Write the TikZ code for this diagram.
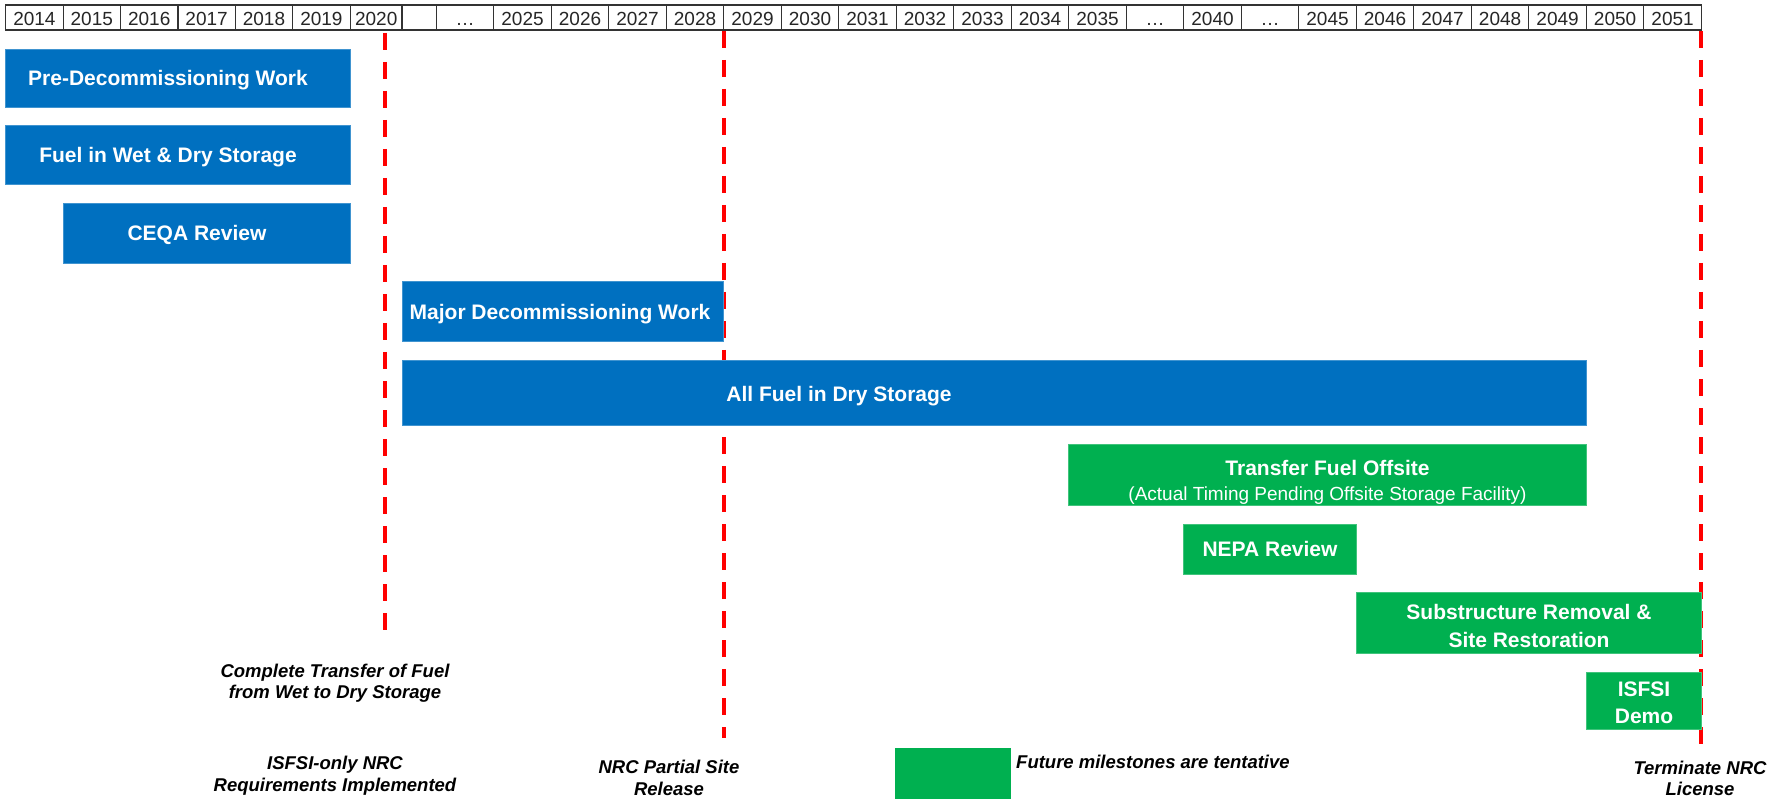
\documentclass[tikz,border=0pt]{standalone}
\usepackage{fontspec}
\setmainfont{Liberation Sans}
\definecolor{barblue}{HTML}{0070C0}
\definecolor{bargreen}{HTML}{00B050}
\definecolor{msred}{HTML}{FF0000}

\begin{document}
\begin{tikzpicture}[x=1pt,y=-1pt,
  bluebar/.style={fill=barblue,draw=barblue!75!white,line width=0.8pt},
  greenbar/.style={fill=bargreen,draw=bargreen!75!white,line width=0.8pt},
  barlabel/.style={anchor=base,inner sep=0pt,text=white,align=center,
    font=\fontsize{21}{28}\selectfont\bfseries},
  yearcell/.style={draw=black!80,line width=1.2pt},
  yearlabel/.style={anchor=base,inner sep=0pt,text=black!85,
    font=\fontsize{19}{22}\selectfont},
  milestone/.style={draw=msred,line width=4pt,dash pattern=on 17pt off 12pt},
  mslabel/.style={anchor=base,inner sep=0pt,align=center,
    font=\fontsize{18.5}{22}\selectfont\bfseries\itshape}]
  \fill[white] (0,0) rectangle (1785,799);
  \useasboundingbox (0,0) rectangle (1785,799);

  % Year header
  \foreach \yr [count=\i from 0] in {2014,2015,2016,2017,2018,2019} {
    \draw[yearcell] (5.7+57.4*\i,5) rectangle ++(57.4,25);
    \node[yearlabel] (yr\yr) at (34.4+57.4*\i,25.5) {\yr};
  }
  \draw[yearcell] (350.4,5) rectangle (402,30);
  \node[yearlabel] (yr2020) at (376.2,25.5) {2020};
  \draw[yearcell] (402,5) rectangle (436.3,30);
  \foreach \yr [count=\i from 0] in {…,2025,2026,2027,2028,2029,2030,2031,
      2032,2033,2034,2035,…,2040,…,2045,2046,2047,2048,2049,2050,2051} {
    \draw[yearcell] (436.3+57.5*\i,5) rectangle ++(57.5,25);
    \node[yearlabel] (late\i) at (465.05+57.5*\i,25.5) {\yr};
  }

  % Milestone lines (behind the bars)
  \coordinate (ms1top) at (385,33);
  \coordinate (ms1bot) at (385,637);
  \coordinate (ms2top) at (723.8,31);
  \coordinate (ms2bot) at (723.8,738);
  \coordinate (ms3top) at (1701.3,31);
  \coordinate (ms3bot) at (1701.3,747);
  \draw[milestone] (ms1top) -- (ms1bot);
  \draw[milestone] (ms2top) -- (ms2bot);
  \draw[milestone] (ms3top) -- (ms3bot);

  % Current work (blue bars)
  \draw[bluebar] (5.7,49.3) rectangle (350.4,107.3);
  \node[barlabel] (predecom) at (168,86) {Pre-Decommissioning Work};

  \draw[bluebar] (5.7,125.7) rectangle (350.4,184);
  \node[barlabel] (wetdry) at (168,162.4) {Fuel in Wet \& Dry Storage};

  \draw[bluebar] (63.1,203) rectangle (350.4,263);
  \node[barlabel] (ceqa) at (197,240.4) {CEQA Review};

  \draw[bluebar] (402,281.7) rectangle (723.3,341.7);
  \node[barlabel] (majordecom) at (560,319.2) {Major Decommissioning Work};

  \draw[bluebar] (402,360.7) rectangle (1586.3,425.7);
  \node[barlabel] (dryfuel) at (839,401) {All Fuel in Dry Storage};

  % Future work (green bars)
  \draw[greenbar] (1068.8,444.3) rectangle (1586.3,505.7);
  \node[barlabel,font=\fontsize{21}{25}\selectfont\bfseries] (offsite) at (1327.5,500)
    {Transfer Fuel Offsite\\{\fontsize{19}{25}\selectfont\mdseries (Actual Timing Pending Offsite Storage Facility)}};

  \draw[greenbar] (1183.8,524) rectangle (1356.3,574);
  \node[barlabel] (nepa) at (1270,556.5) {NEPA Review};

  \draw[greenbar] (1356.3,592) rectangle (1701.3,653);
  \node[barlabel] (restore) at (1529,647.5) {Substructure Removal \&\\Site Restoration};

  \draw[greenbar] (1586.3,672) rectangle (1701.3,729);
  \node[barlabel,font=\fontsize{21}{27}\selectfont\bfseries] (isfsidemo) at (1644,723) {ISFSI\\Demo};

  % Milestone labels
  \node[mslabel,font=\fontsize{18.5}{21}\selectfont\bfseries\itshape] (drytransfer) at (335,698.3)
    {Complete Transfer of Fuel\\from Wet to Dry Storage};
  \node[mslabel] (isfsionly) at (335,791.5) {ISFSI-only NRC\\Requirements Implemented};
  \node[mslabel] (partialrelease) at (669,795) {NRC Partial Site\\Release};
  \node[mslabel,font=\fontsize{18.5}{21}\selectfont\bfseries\itshape] (terminate) at (1700,795) {Terminate NRC\\License};

  % Legend
  \fill[bargreen] (895,748) rectangle (1011,799);
  \node[mslabel,anchor=base west] (legendtext) at (1016,768) {Future milestones are tentative};
\end{tikzpicture}
\end{document}
